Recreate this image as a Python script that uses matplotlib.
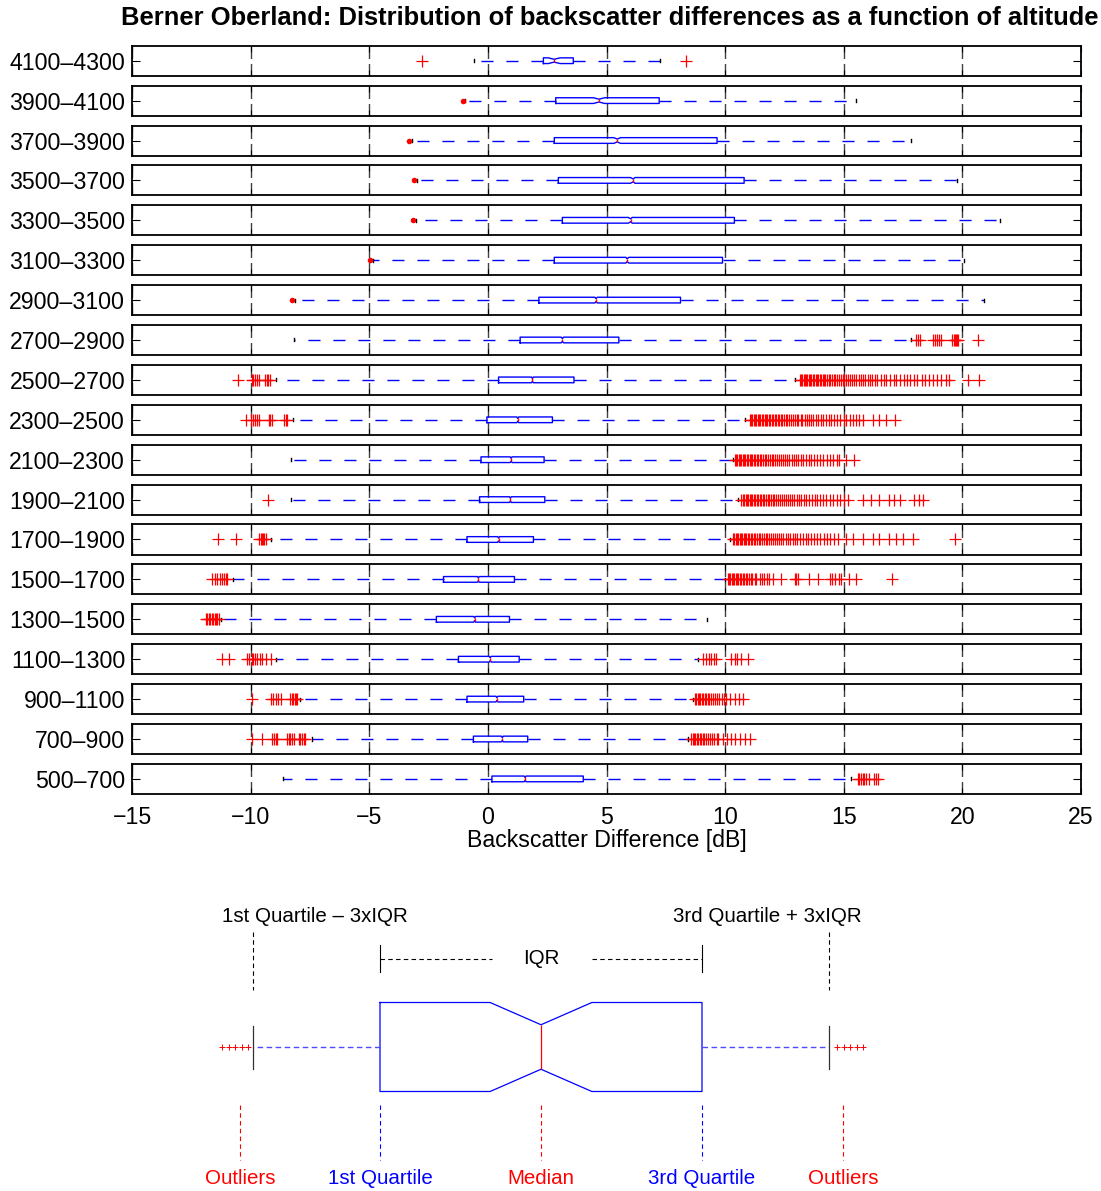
import numpy as np
import matplotlib.pyplot as plt

plt.rcParams['font.family'] = ['Liberation Sans', 'DejaVu Sans']

# altitude bands, top to bottom
labels = ['4100–4300', '3900–4100', '3700–3900', '3500–3700', '3300–3500',
          '3100–3300', '2900–3100', '2700–2900', '2500–2700', '2300–2500',
          '2100–2300', '1900–2100', '1700–1900', '1500–1700', '1300–1500',
          '1100–1300', '900–1100', '700–900', '500–700']

# box statistics (dB)
q1 = [2.34, 2.86, 2.80, 2.97, 3.14, 2.80, 2.15, 1.36, 0.45, -0.04,
      -0.29, -0.35, -0.88, -1.87, -2.17, -1.24, -0.88, -0.61, 0.17]
med = [2.79, 4.68, 5.45, 6.13, 6.02, 5.87, 4.56, 3.14, 1.88, 1.26,
       0.98, 0.95, 0.45, -0.40, -0.56, 0.10, 0.38, 0.61, 1.57]
q3 = [3.60, 7.22, 9.66, 10.80, 10.39, 9.89, 8.12, 5.52, 3.63, 2.72,
      2.37, 2.40, 1.92, 1.12, 0.91, 1.32, 1.51, 1.68, 4.02]
whislo = [-0.60, -0.95, -3.20, -3.00, -3.05, -4.85, -8.15, -8.18, -8.95, -8.22,
          -8.31, -8.29, -9.15, -10.74, -11.25, -8.92, -7.90, -7.40, -8.62]
whishi = [7.26, 15.50, 17.84, 19.76, 21.60, 20.05, 20.92, 17.85, 12.93, 10.83,
          10.33, 10.54, 10.19, 9.98, 9.24, 8.86, 8.65, 8.44, 15.31]
cilo = [2.55, 4.45, 5.31, 6.01, 5.92, 5.82, 4.51, 3.09, 1.84, 1.22,
        0.94, 0.91, 0.41, -0.44, -0.60, 0.06, 0.34, 0.57, 1.53]
cihi = [3.05, 4.92, 5.59, 6.20, 6.08, 5.94, 4.61, 3.19, 1.92, 1.30,
        1.02, 0.99, 0.49, -0.36, -0.52, 0.14, 0.42, 0.65, 1.61]

outliers = [
    [-2.78, 8.33],
    [-1.05],
    [-3.31],
    [-3.10],
    [-3.14],
    [-4.95],
    [-8.26],
    [18.05, 18.12, 18.20, 18.78, 18.85, 18.93, 19.02, 19.10, 19.58, 19.63,
     19.68, 19.72, 19.76, 19.80, 20.64],
    [-10.53, -9.95, -9.88, -9.80, -9.74, -9.66, -9.38, -9.31, -9.25, -9.20,
     13.14, 13.20, 13.25, 13.31, 13.36, 13.42, 13.47, 13.53, 13.58, 13.64,
     13.70, 13.75, 13.81, 13.87, 13.92, 13.98, 14.05, 14.11, 14.17, 14.22,
     14.30, 14.36, 14.43, 14.51, 14.58, 14.64, 14.72, 14.80, 14.87, 14.95,
     15.03, 15.10, 15.19, 15.27, 15.36, 15.44, 15.52, 15.63, 15.71, 15.82,
     15.90, 16.01, 16.12, 16.20, 16.33, 16.41, 16.55, 16.68, 16.80, 16.95,
     17.10, 17.22, 17.38, 17.55, 17.66, 17.80, 17.97, 18.10, 18.28, 18.42,
     18.60, 18.75, 18.93, 19.10, 19.30, 19.45, 20.22, 20.71],
    [-10.21, -9.99, -9.90, -9.80, -9.72, -9.65, -9.23, -9.17, -9.10, -8.60,
     -8.53, -8.46,
     11.04, 11.10, 11.15, 11.21, 11.26, 11.32, 11.38, 11.43, 11.49, 11.55,
     11.60, 11.66, 11.72, 11.78, 11.84, 11.90, 11.96, 12.02, 12.09, 12.15,
     12.21, 12.28, 12.34, 12.41, 12.48, 12.55, 12.62, 12.70, 12.77, 12.85,
     12.93, 13.01, 13.09, 13.18, 13.26, 13.35, 13.44, 13.53, 13.63, 13.72,
     13.82, 13.92, 14.03, 14.13, 14.25, 14.36, 14.48, 14.60, 14.73, 14.86,
     14.99, 15.10, 15.25, 15.38, 15.52, 15.66, 15.80, 16.22, 16.50, 16.79,
     17.14],
    [10.40, 10.46, 10.51, 10.57, 10.62, 10.68, 10.74, 10.79, 10.85, 10.91,
     10.97, 11.03, 11.09, 11.15, 11.21, 11.28, 11.34, 11.40, 11.47, 11.53,
     11.60, 11.67, 11.74, 11.81, 11.88, 11.96, 12.03, 12.11, 12.19, 12.27,
     12.35, 12.44, 12.52, 12.61, 12.70, 12.80, 12.89, 12.99, 13.09, 13.20,
     13.30, 13.41, 13.52, 13.64, 13.76, 13.88, 14.01, 14.14, 14.28, 14.42,
     14.56, 14.70, 14.82, 15.08, 15.45],
    [-9.26,
     10.69, 10.75, 10.80, 10.86, 10.92, 10.97, 11.03, 11.09, 11.15, 11.21,
     11.27, 11.33, 11.39, 11.45, 11.52, 11.58, 11.65, 11.72, 11.79, 11.86,
     11.93, 12.00, 12.08, 12.15, 12.23, 12.31, 12.39, 12.47, 12.56, 12.64,
     12.73, 12.82, 12.92, 13.01, 13.11, 13.21, 13.32, 13.42, 13.53, 13.65,
     13.77, 13.89, 14.01, 14.14, 14.27, 14.41, 14.55, 14.70, 14.85, 15.01,
     15.17, 15.80, 16.16, 16.50, 16.92, 17.10, 17.35, 17.98, 18.19, 18.33],
    [-11.37, -10.63, -9.65, -9.58, -9.52, -9.47, -9.42, -9.37,
     10.33, 10.38, 10.44, 10.49, 10.55, 10.61, 10.66, 10.72, 10.78, 10.84,
     10.90, 10.96, 11.02, 11.09, 11.15, 11.22, 11.28, 11.35, 11.42, 11.49,
     11.56, 11.63, 11.71, 11.78, 11.86, 11.94, 12.02, 12.10, 12.19, 12.27,
     12.36, 12.45, 12.55, 12.64, 12.74, 12.84, 12.95, 13.05, 13.16, 13.27,
     13.39, 13.51, 13.63, 13.75, 13.88, 14.01, 14.15, 14.29, 14.44, 14.60,
     14.75, 15.10, 15.38, 15.80, 16.22, 16.50, 16.92, 17.21, 17.49, 17.91,
     19.70],
    [-11.61, -11.50, -11.40, -11.30, -11.21, -11.12, -11.05, -10.98,
     10.12, 10.17, 10.22, 10.27, 10.33, 10.38, 10.44, 10.50, 10.55, 10.61,
     10.68, 10.74, 10.80, 10.87, 10.93, 11.00, 11.08, 11.15, 11.24, 11.32,
     11.46, 11.55, 11.63, 11.75, 11.86, 12.02, 12.37, 12.93, 13.00, 13.07,
     13.53, 13.91, 14.40, 14.52, 14.63, 14.78, 14.89, 15.24, 15.52, 17.04],
    [-11.89, -11.82, -11.76, -11.70, -11.64, -11.58, -11.52, -11.46, -11.40, -11.33],
    [-11.20, -10.92, -10.14, -10.05, -9.96, -9.88, -9.80, -9.72, -9.62, -9.50,
     -9.35, -9.16,
     9.07, 9.18, 9.30, 9.40, 9.52, 9.63, 10.26, 10.40, 10.52, 10.68, 10.96],
    [-9.93, -9.16, -9.05, -8.95, -8.84, -8.74, -8.32, -8.26, -8.20, -8.14,
     -8.09, -8.04,
     8.72, 8.78, 8.84, 8.90, 8.96, 9.02, 9.08, 9.14, 9.21, 9.27,
     9.34, 9.41, 9.49, 9.57, 9.66, 9.76, 9.86, 9.95, 10.05, 10.22,
     10.41, 10.58, 10.75],
    [-9.93, -9.51, -9.09, -9.02, -8.95, -8.88, -8.46, -8.39, -8.32, -8.25,
     -8.18, -7.97, -7.90, -7.83, -7.76, -7.69,
     8.58, 8.63, 8.69, 8.74, 8.80, 8.86, 8.92, 8.98, 9.05, 9.12,
     9.19, 9.27, 9.36, 9.45, 9.55, 9.64, 9.70, 9.91, 10.08, 10.25,
     10.42, 10.63, 10.84, 11.04],
    [15.59, 15.66, 15.73, 15.80, 15.87, 15.94, 16.08, 16.29, 16.36, 16.43],
]
outlier_style = ['+', '.', '.', '.', '.', '.', '.'] + ['+'] * 12

xticks = [-15, -10, -5, 0, 5, 10, 15, 20, 25]

W, H = 1101, 1191
BLUE = (0, 0, 1)
RED = (1, 0, 0)
FS = 16.7

fig = plt.figure(figsize=(W / 100, H / 100), dpi=100)

left_px, right_px = 132, 1081
top0, step, ph = 45.7, 39.9, 30
n = len(labels)

for i in range(n):
    top = top0 + i * step
    ax = fig.add_axes([left_px / W, 1 - (top + ph) / H, (right_px - left_px) / W, ph / H])
    stats = dict(q1=q1[i], med=med[i], q3=q3[i], whislo=whislo[i], whishi=whishi[i],
                 cilo=cilo[i], cihi=cihi[i], fliers=[])
    ax.bxp([stats], positions=[1], widths=0.19, orientation='horizontal',
           shownotches=True, showfliers=False, manage_ticks=False, capwidths=[0.1],
           boxprops=dict(color=BLUE, lw=1),
           medianprops=dict(color=RED, lw=1),
           whiskerprops=dict(color=BLUE, lw=1, linestyle=(0, (8.7, 9.3))),
           capprops=dict(color='k', lw=1))
    fx = outliers[i]
    if outlier_style[i] == '+':
        ax.plot(fx, np.ones(len(fx)), ls='none', marker='+', ms=9, mew=0.9, color=RED)
    else:
        ax.plot(fx, np.ones(len(fx)), ls='none', marker='o', ms=4, mec='none', color=RED)
    ax.set_xlim(-15, 25)
    ax.set_ylim(0.5, 1.5)
    ax.set_xticks(xticks)
    ax.set_yticks([1])
    ax.set_yticklabels([labels[i]])
    ax.grid(axis='x', color='0.25', lw=1, linestyle=(0, (9, 3.6)))
    ax.tick_params(axis='y', direction='in', length=6, left=True, right=True,
                   labelsize=FS, pad=5)
    ax.tick_params(axis='x', direction='in', length=4, top=True, bottom=True,
                   labelbottom=(i == n - 1), labelsize=FS, pad=9)
    for sp in ax.spines.values():
        sp.set_linewidth(1.3)

fig.text(609.5 / W, 1 - 18 / H, 'Berner Oberland: Distribution of backscatter differences as a function of altitude',
         ha='center', va='center', fontsize=18.4, fontweight='bold')
fig.text(606.5 / W, 1 - 841 / H, 'Backscatter Difference [dB]', ha='center', va='center', fontsize=FS)

# ---- schematic legend of the box plot ----
leg_q1, leg_med, leg_q3 = 0.0, 0.5, 1.0
leg_lo, leg_hi = -0.394, 1.394
leg_ci = (0.342, 0.658)
leg_out_lo = [-0.49, -0.47, -0.45, -0.43, -0.41]
leg_out_hi = [1.42, 1.44, 1.46, 1.48, 1.50]
LFS = 14.8

lg = fig.add_axes([0, 0, 1, 311 / H])
lg.set_xlim(-380 / 322, (W - 380) / 322)
lg.set_ylim(1191, 880)
lg.axis('off')

lg.bxp([dict(q1=leg_q1, med=leg_med, q3=leg_q3, whislo=leg_lo, whishi=leg_hi,
             cilo=leg_ci[0], cihi=leg_ci[1], fliers=[])],
       positions=[1047], widths=89, orientation='horizontal', shownotches=True,
       showfliers=False, manage_ticks=False, capwidths=[43],
       boxprops=dict(color=BLUE, lw=0.9),
       medianprops=dict(color=RED, lw=0.9),
       whiskerprops=dict(color=(0.3, 0.3, 1), lw=1, linestyle=(0, (4, 2.5))),
       capprops=dict(color='0.2', lw=0.9))
lg.plot(leg_out_lo, [1047] * len(leg_out_lo), ls='none', marker='+', ms=5, mew=0.7, color=RED)
lg.plot(leg_out_hi, [1047] * len(leg_out_hi), ls='none', marker='+', ms=5, mew=0.7, color=RED)

dash = (0, (4, 3))
for xv in (leg_lo, leg_hi):
    lg.plot([xv, xv], [932, 990], color='k', lw=0.8, linestyle=dash)
for xv in (leg_q1, leg_q3):
    lg.plot([xv, xv], [945, 972], color='k', lw=0.8)
lg.plot([leg_q1, 0.348], [959, 959], color='k', lw=0.8, linestyle=dash)
lg.plot([0.658, leg_q3], [959, 959], color='k', lw=0.8, linestyle=dash)
lg.text(leg_med, 959, 'IQR', ha='center', va='center', fontsize=LFS)
lg.text(-0.49, 917, '1st Quartile – 3xIQR', ha='left', va='center', fontsize=LFS)
lg.text(1.497, 917, '3rd Quartile + 3xIQR', ha='right', va='center', fontsize=LFS)

bottom_marks = [(-0.435, 'Outliers', RED), (leg_q1, '1st Quartile', BLUE),
                (leg_med, 'Median', RED), (leg_q3, '3rd Quartile', BLUE),
                (1.438, 'Outliers', RED)]
for xv, txt, col in bottom_marks:
    lg.plot([xv, xv], [1105, 1160], color=col, lw=0.8, linestyle=dash)
    lg.text(xv, 1178, txt, ha='center', va='center', fontsize=LFS, color=col)

fig.savefig('out.png', dpi=100)
